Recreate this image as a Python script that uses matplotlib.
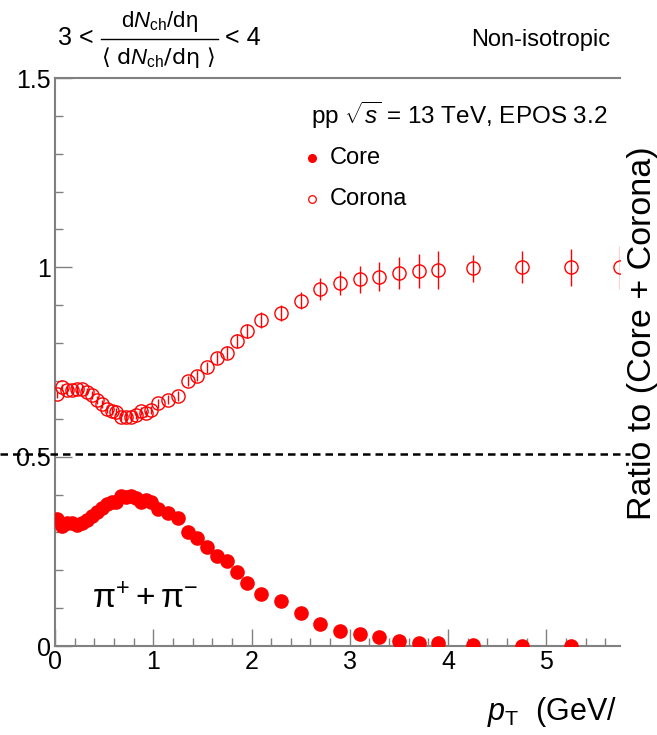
import matplotlib
matplotlib.use("Agg")
import matplotlib.pyplot as plt
from matplotlib.lines import Line2D
from matplotlib.ticker import MultipleLocator

plt.rcParams['font.family'] = ['Liberation Sans', 'DejaVu Sans']
plt.rcParams['mathtext.fontset'] = 'custom'
plt.rcParams['mathtext.rm'] = 'Liberation Sans'
plt.rcParams['mathtext.it'] = 'Liberation Sans:italic'
plt.rcParams['mathtext.bf'] = 'Liberation Sans:bold'

# pT bin centres (GeV/c)
pt_core = [0.025, 0.075, 0.125, 0.175, 0.225, 0.275, 0.325, 0.375, 0.425, 0.475,
           0.525, 0.575, 0.625, 0.675, 0.725, 0.775, 0.825, 0.875, 0.925, 0.975,
           1.05, 1.15, 1.25, 1.35, 1.45, 1.55, 1.65, 1.75, 1.85, 1.95,
           2.1, 2.3, 2.5, 2.7, 2.9, 3.1, 3.3, 3.5, 3.7, 3.9,
           4.25, 4.75, 5.25]
core = [0.335, 0.317, 0.326, 0.326, 0.319, 0.324, 0.333, 0.343, 0.355, 0.365,
        0.375, 0.379, 0.381, 0.396, 0.393, 0.396, 0.390, 0.379, 0.386, 0.379,
        0.361, 0.352, 0.339, 0.300, 0.284, 0.262, 0.238, 0.225, 0.195, 0.167,
        0.137, 0.120, 0.088, 0.057, 0.040, 0.032, 0.025, 0.014, 0.009, 0.007,
        0.002, 0.0, 0.0]

pt_corona = pt_core + [5.75]
corona = [0.665, 0.683, 0.676, 0.676, 0.678, 0.678, 0.672, 0.663, 0.650, 0.639,
          0.626, 0.620, 0.619, 0.604, 0.605, 0.604, 0.610, 0.620, 0.614, 0.623,
          0.641, 0.650, 0.661, 0.700, 0.714, 0.736, 0.761, 0.774, 0.805, 0.832,
          0.861, 0.880, 0.912, 0.943, 0.959, 0.968, 0.975, 0.986, 0.991, 0.993,
          0.997, 1.0, 1.0, 1.0]
corona_err = [0.010] * 20 + [0.012, 0.012, 0.013, 0.014, 0.014, 0.015, 0.016, 0.017, 0.019, 0.019,
                             0.020, 0.021, 0.023, 0.029, 0.031, 0.035, 0.038, 0.042, 0.045, 0.050,
                             0.035, 0.042, 0.049, 0.057]

red = '#ff0000'
grey = '#808080'
W, H = 657, 735


def fx(px):
    return px / W


def fy(py):
    return 1 - py / H


fig = plt.figure(figsize=(6.57, 7.35), dpi=100)
ax = fig.add_axes([fx(55), fy(646), 565 / W, 568 / H])

ax.errorbar(pt_corona, corona, yerr=corona_err, fmt='o', ms=9.5, mfc='none',
            mec=red, mew=1.0, ecolor=red, elinewidth=1.0, capsize=0, zorder=3)
ax.plot(pt_core, core, 'o', ms=9.5, color=red, mec=red, zorder=4)

ax.set_xlim(0, 5.75)
ax.set_ylim(0, 1.5)

# dashed reference line running across the whole pad
ax.plot([-0.097, 1.018], [0.507, 0.507], color='black', ls=(0, (3, 2)), lw=1.8,
        transform=ax.get_yaxis_transform(), clip_on=False, zorder=5)

for side in ['left', 'bottom', 'top']:
    ax.spines[side].set_color(grey)
    ax.spines[side].set_linewidth(1.5)
ax.spines['right'].set_visible(False)

ax.xaxis.set_major_locator(MultipleLocator(1))
ax.xaxis.set_minor_locator(MultipleLocator(0.2))
ax.yaxis.set_minor_locator(MultipleLocator(0.1))
ax.set_yticks([0, 0.5, 1, 1.5])
ax.set_yticklabels(['0', '0.5', '1', '1.5'])
ax.tick_params(which='both', direction='in', color=grey, width=1.0,
               top=False, right=False, labelsize=18)
ax.tick_params(which='major', length=12)
ax.tick_params(which='minor', length=6)
ax.tick_params(axis='y', pad=3)
ax.tick_params(axis='x', pad=3)

# legend drawn by hand
ax.plot([0.454], [0.859], 'o', ms=5.5, color=red, transform=ax.transAxes, clip_on=False)
ax.plot([0.454], [0.787], 'o', ms=5.5, mfc='none', mec=red, mew=0.9,
        transform=ax.transAxes, clip_on=False)
fig.text(fx(330), fy(158), 'Core', fontsize=17, ha='left', va='center')
fig.text(fx(330), fy(199), 'Corona', fontsize=17, ha='left', va='center')

fig.text(fx(607), fy(115), r'pp $\sqrt{s}$ = 13 TeV, EPOS 3.2', fontsize=17.5,
         ha='right', va='center')
fig.text(fx(610), fy(40), 'Non-isotropic', fontsize=17, ha='right', va='center')

# multiplicity class: 3 < (dNch/deta) / <dNch/deta> < 4
fig.text(fx(58), fy(38), '3 <', fontsize=18, ha='left', va='center')
fig.text(fx(159), fy(22), r'd$N_{\mathrm{ch}}$/dη', fontsize=16, ha='center', va='center')
fig.add_artist(Line2D([fx(101), fx(218)], [fy(39), fy(39)], color='black', lw=1.0))
fig.text(fx(158), fy(58), r'⟨ d$N_{\mathrm{ch}}$/dη ⟩', fontsize=16,
         family=['DejaVu Sans'], ha='center', va='center')
fig.text(fx(225), fy(38), '< 4', fontsize=18, ha='left', va='center')

fig.text(fx(145), fy(600), r'$\mathrm{\pi}^{+} + \mathrm{\pi}^{-}$', fontsize=24,
         ha='center', va='center')

fig.text(fx(617), fy(712), r'$p_{\mathrm{T}}$  (GeV/', fontsize=22,
         ha='right', va='center')
fig.text(fx(643), fy(333), 'Ratio to (Core + Corona)', fontsize=24.5,
         rotation=90, ha='center', va='center')

fig.savefig('out.png', dpi=100)
